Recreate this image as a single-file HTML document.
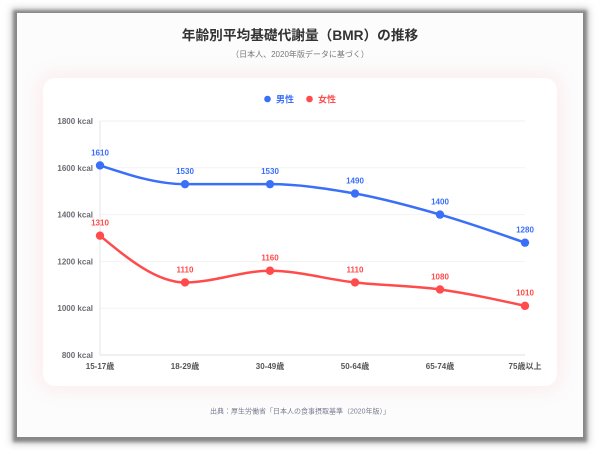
<!DOCTYPE html>
<html><head><meta charset="utf-8">
<style>
html,body{margin:0;padding:0;background:#fff;}
body{width:600px;height:450px;position:relative;overflow:hidden;font-family:"Liberation Sans","Noto Sans CJK JP",sans-serif;}
.frame{position:absolute;left:17px;top:13px;width:566px;height:424px;background:#fcfcfd;box-shadow:0 1px 3px 4px rgba(110,110,110,0.75),0 1px 7px 6px rgba(120,120,120,0.35);}
.card{position:absolute;left:43px;top:78px;width:514px;height:308px;background:#fff;border-radius:12px;box-shadow:0 0 18px 6px rgba(255,120,120,0.10);}
svg{position:absolute;left:0;top:0;}
</style></head><body>
<div class="frame"></div>
<div class="card"></div>
<svg width="600" height="450" viewBox="0 0 600 450" font-family="Liberation Sans, Noto Sans CJK JP, sans-serif">
  <text x="300" y="40" text-anchor="middle" font-size="13.7" font-weight="bold" fill="#333">年齢別平均基礎代謝量（BMR）の推移</text>
  <text x="300" y="57" text-anchor="middle" font-size="8" fill="#777">（日本人、2020年版データに基づく）</text>

  <circle cx="267.5" cy="99" r="3.3" fill="#3a6ff7"/>
  <text x="276" y="102.5" font-size="9" font-weight="bold" fill="#3a6ff7">男性</text>
  <circle cx="309.5" cy="99" r="3.3" fill="#ff4b4b"/>
  <text x="318" y="102.5" font-size="9" font-weight="bold" fill="#ff4b4b">女性</text>

  <g stroke="#f2f2f4" stroke-width="1">
    <line x1="100" y1="121" x2="525" y2="121"/>
    <line x1="100" y1="167.8" x2="525" y2="167.8"/>
    <line x1="100" y1="214.6" x2="525" y2="214.6"/>
    <line x1="100" y1="261.4" x2="525" y2="261.4"/>
    <line x1="100" y1="308.2" x2="525" y2="308.2"/>
  </g>
  <line x1="100" y1="121" x2="100" y2="355" stroke="#e6e6e8" stroke-width="1"/>
  <line x1="100" y1="355" x2="525" y2="355" stroke="#e6e6e8" stroke-width="1.2"/>

  <g font-size="8" font-weight="bold" fill="#6b6b72" text-anchor="end">
    <text x="93" y="124">1800 kcal</text>
    <text x="93" y="170.8">1600 kcal</text>
    <text x="93" y="217.6">1400 kcal</text>
    <text x="93" y="264.4">1200 kcal</text>
    <text x="93" y="311.2">1000 kcal</text>
    <text x="93" y="358">800 kcal</text>
  </g>
  <g font-size="8" font-weight="bold" fill="#555" text-anchor="middle">
    <text x="100" y="369">15-17歳</text>
    <text x="185" y="369">18-29歳</text>
    <text x="270" y="369">30-49歳</text>
    <text x="355" y="369">50-64歳</text>
    <text x="440" y="369">65-74歳</text>
    <text x="525" y="369">75歳以上</text>
  </g>

  <path d="M100,165.46 C128.33,174.82 156.67,184.18 185,184.18 C213.33,184.18 241.67,184.18 270,184.18 C298.33,184.18 326.67,188.47 355,193.54 C383.33,198.61 411.67,206.41 440,214.6 C468.33,222.79 496.67,232.74 525,242.68" fill="none" stroke="#3a6ff7" stroke-width="2.5"/>
  <path d="M100,235.66 C128.33,259.06 156.67,282.46 185,282.46 C213.33,282.46 241.67,270.76 270,270.76 C298.33,270.76 326.67,279.34 355,282.46 C383.33,285.58 411.67,285.58 440,289.48 C468.33,293.38 496.67,299.62 525,305.86" fill="none" stroke="#ff4b4b" stroke-width="2.5"/>

  <g fill="#3a6ff7">
    <circle cx="100" cy="165.46" r="4.2"/>
    <circle cx="185" cy="184.18" r="4.2"/>
    <circle cx="270" cy="184.18" r="4.2"/>
    <circle cx="355" cy="193.54" r="4.2"/>
    <circle cx="440" cy="214.6" r="4.2"/>
    <circle cx="525" cy="242.68" r="4.2"/>
  </g>
  <g fill="#ff4b4b">
    <circle cx="100" cy="235.66" r="4.2"/>
    <circle cx="185" cy="282.46" r="4.2"/>
    <circle cx="270" cy="270.76" r="4.2"/>
    <circle cx="355" cy="282.46" r="4.2"/>
    <circle cx="440" cy="289.48" r="4.2"/>
    <circle cx="525" cy="305.86" r="4.2"/>
  </g>

  <g font-size="8" font-weight="bold" fill="#3a6ff7" text-anchor="middle">
    <text x="100" y="155.3">1610</text>
    <text x="185" y="174">1530</text>
    <text x="270" y="174">1530</text>
    <text x="355" y="183.4">1490</text>
    <text x="440" y="204.5">1400</text>
    <text x="525" y="232.5">1280</text>
  </g>
  <g font-size="8" font-weight="bold" fill="#ff4b4b" text-anchor="middle">
    <text x="100" y="225.5">1310</text>
    <text x="185" y="272.3">1110</text>
    <text x="270" y="260.6">1160</text>
    <text x="355" y="272.3">1110</text>
    <text x="440" y="279.3">1080</text>
    <text x="525" y="295.7">1010</text>
  </g>

  <text x="300" y="413.5" text-anchor="middle" font-size="7" fill="#7a7a8e">出典：厚生労働省「日本人の食事摂取基準（2020年版）」</text>
</svg>
</body></html>
